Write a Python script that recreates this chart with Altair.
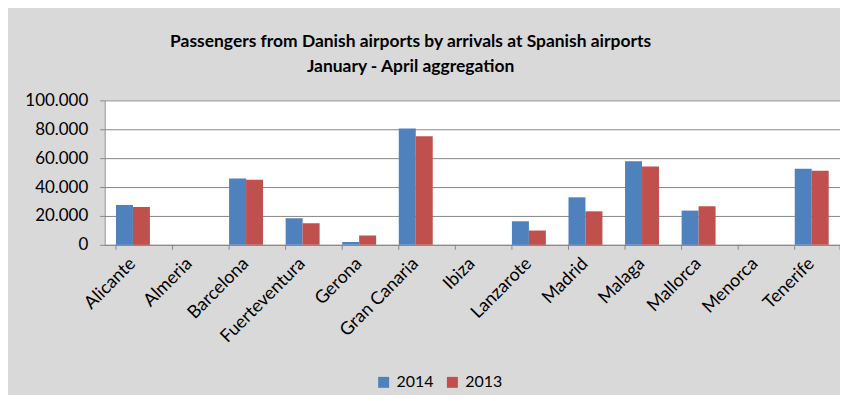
import altair as alt
import pandas as pd

airports = ["Alicante", "Almeria", "Barcelona", "Fuerteventura", "Gerona", "Gran Canaria",
            "Ibiza", "Lanzarote", "Madrid", "Malaga", "Mallorca", "Menorca", "Tenerife"]
pax_2014 = [27600, 0, 46000, 18400, 2000, 80500, 0, 16300, 32900, 57900, 23700, 0, 52600]
pax_2013 = [26200, 0, 45000, 15000, 6400, 75200, 0, 9900, 23200, 54300, 26700, 0, 51200]
years = ["2014", "2013"]
colors = ["#4f81bd", "#c0504d"]
y_ticks = [0, 20000, 40000, 60000, 80000, 100000]

rows = []
for a, v14, v13 in zip(airports, pax_2014, pax_2013):
    rows.append({"airport": a, "year": "2014", "value": v14})
    rows.append({"airport": a, "year": "2013", "value": v13})
df = pd.DataFrame(rows)
cat_df = pd.DataFrame({"airport": airports})

W, H = 738, 145
GRID = "#898989"
FONT = "Lato"

x_scale = alt.Scale(domain=airports, paddingInner=0.4, paddingOuter=0.2)
x_axis = alt.Axis(title=None, labelAngle=-45, labelAlign="right", labelBaseline="middle",
                  ticks=False, labelPadding=16, domainColor=GRID, labelFont=FONT,
                  labelFontSize=18, labelColor="black", labelOverlap=False)

bars = alt.Chart(df).mark_bar().encode(
    x=alt.X("airport:N", scale=x_scale, sort=airports, axis=x_axis),
    xOffset=alt.XOffset("year:N", sort=years,
                        scale=alt.Scale(domain=years, paddingInner=0, paddingOuter=0)),
    y=alt.Y("value:Q", scale=alt.Scale(domain=[0, 100000]),
            axis=alt.Axis(values=y_ticks, title=None, grid=True, gridColor=GRID,
                          tickColor=GRID, tickSize=5, domainColor=GRID, labelPadding=12,
                          labelFont=FONT, labelFontSize=17, labelColor="black",
                          labelExpr="datum.value == 0 ? '0' : format(datum.value / 1000, 'd') + '.000'")),
    color=alt.Color("year:N", sort=years, scale=alt.Scale(domain=years, range=colors),
                    legend=alt.Legend(title=None, orient="none", legendX=272, legendY=275,
                                      direction="horizontal", symbolType="square",
                                      symbolSize=121, symbolStrokeWidth=0,
                                      labelFont=FONT, labelFontSize=16, labelColor="black",
                                      labelOffset=5, columnPadding=10)),
)

ticks = alt.Chart(cat_df).mark_rule(color=GRID).encode(
    x=alt.X("airport:N", scale=x_scale, sort=airports, bandPosition=0, axis=x_axis),
    y=alt.value(H),
    y2=alt.value(H + 5),
)
last_tick = alt.Chart(pd.DataFrame({"k": [0]})).mark_rule(color=GRID).encode(
    x=alt.value(W), y=alt.value(H), y2=alt.value(H + 5)
)

chart = alt.layer(bars, ticks, last_tick).properties(
    width=W, height=H,
    background="#d9d9d9",
    autosize=alt.AutoSizeParams(type="none"),
    padding={"left": 97, "top": 92, "right": 0, "bottom": 150},
    title=alt.Title(["Passengers from Danish airports by arrivals at Spanish airports",
                     "January - April aggregation"],
                    font=FONT, fontSize=17.5, fontWeight="bold", color="black",
                    anchor="middle", dx=-62, offset=16, lineHeight=25),
).configure_view(fill="white", strokeWidth=0)

chart.save("out.html", embed_options={"renderer": "svg", "actions": False})
